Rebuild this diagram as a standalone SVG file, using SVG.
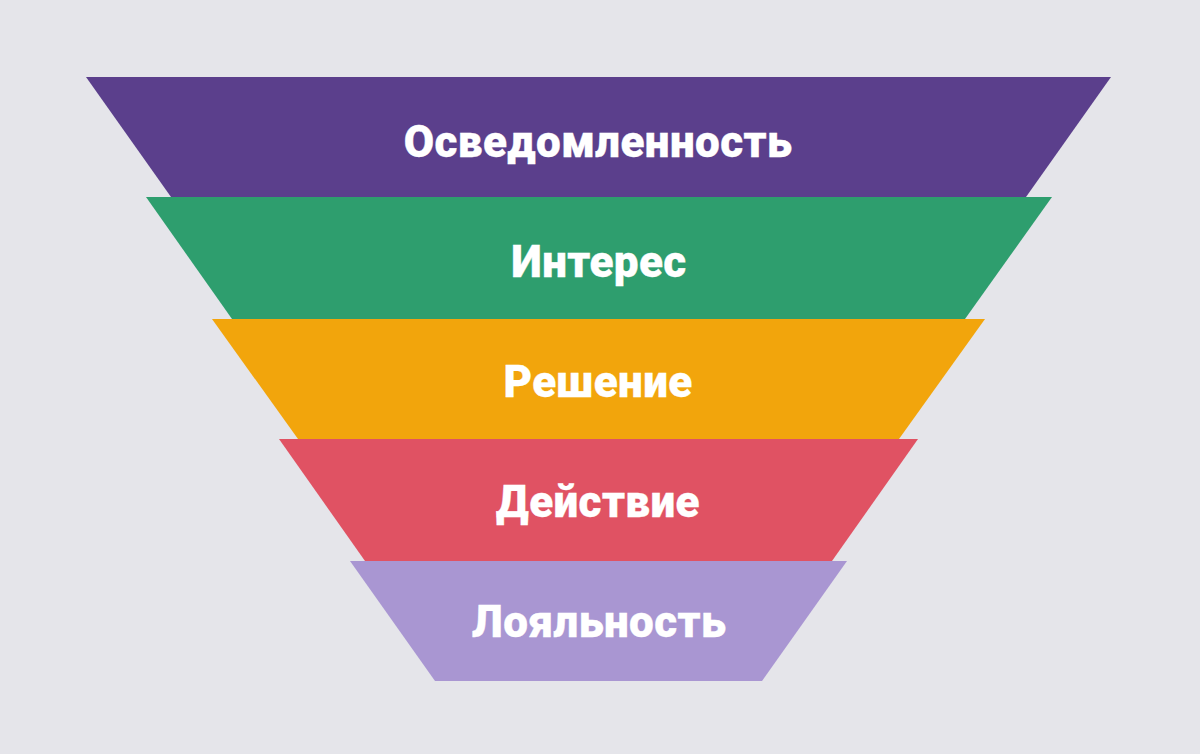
<svg xmlns="http://www.w3.org/2000/svg" width="1200" height="754" viewBox="0 0 1200 754">
<style>
.lbl{font-family:Roboto,"Liberation Sans",sans-serif;font-weight:900;font-size:44px;letter-spacing:0.4px;fill:#ffffff;stroke:#ffffff;stroke-width:0.3;text-anchor:middle}
</style>
<rect width="1200" height="754" fill="#E5E5EA"/>
<g id="stage1"><polygon points="86,77 1111,77 1026,197 171,197" fill="#5B3F8C"/><text class="lbl" x="598" y="157">Осведомленность</text></g>
<g id="stage2"><polygon points="146,197 1052,197 965,319 232,319" fill="#2E9E6E"/><text class="lbl" x="599" y="277">Интерес</text></g>
<g id="stage3"><polygon points="212,319 985,319 899,439 298,439" fill="#F2A50C"/><text class="lbl" x="598" y="397">Решение</text></g>
<g id="stage4"><polygon points="279,439 918,439 832,561 365,561" fill="#E05263"/><text class="lbl" x="598" y="517">Действие</text></g>
<g id="stage5"><polygon points="350,561 847,561 762,681 435,681" fill="#A996D2"/><text class="lbl" x="599" y="637">Лояльность</text></g>
<g id="connectors"/>
</svg>
